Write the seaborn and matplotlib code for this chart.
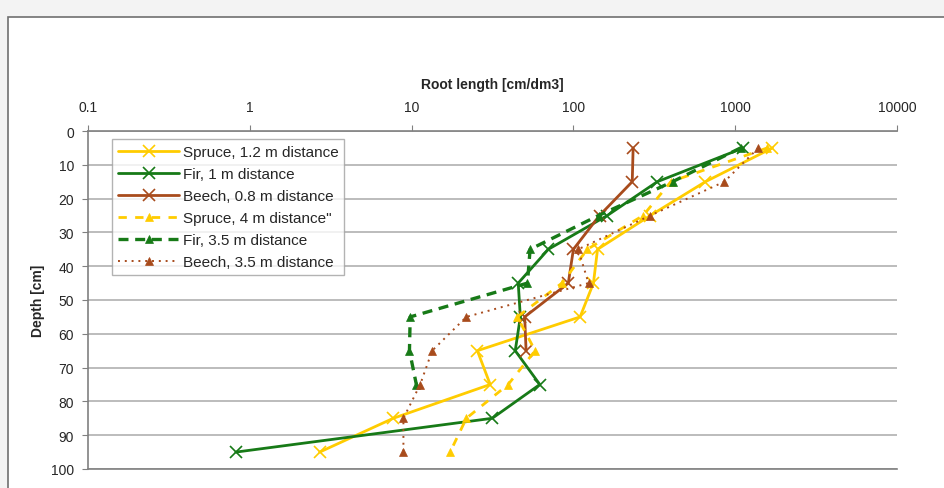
import matplotlib
matplotlib.use('Agg')
import matplotlib.pyplot as plt
import seaborn as sns
import pandas as pd
from matplotlib.patches import Rectangle

# Tiefe [cm]
depth = [5, 15, 25, 35, 45, 55, 65, 75, 85, 95]

spruce_12 = [1700, 655, 299, 141, 133, 110, 25.5, 30.6, 7.7, 2.7]
fir_1 = [1124, 330, 162, 70, 45.6, 47, 43.7, 62, 31.5, 0.82]
beech_08 = [234, 231, 145, 100, 93, 50, 51]
spruce_4 = [1580, 400, 270, 122, 85, 45, 58, 39.5, 21.8, 17.3]
fir_35 = [1080, 410, 143, 54, 52, 9.8, 9.7, 10.7]
beech_35 = [1390, 857, 299, 107, 124, 21.8, 13.4, 11.3, 8.9, 8.9]

labels = ['Spruce, 1.2 m distance', 'Fir, 1 m distance', 'Beech, 0.8 m distance',
          'Spruce, 4 m distance"', 'Fir, 3.5 m distance', 'Beech, 3.5 m distance']

yellow = '#FFCC00'
green = '#177A17'
brown = '#A84B1C'

sns.set_style('white')
plt.rcParams['font.family'] = ['Liberation Sans', 'DejaVu Sans']

fig = plt.figure(figsize=(9.45, 4.89), dpi=100)
fig.patch.set_facecolor('#f3f3f3')
fig.patches.append(Rectangle((8 / 945, -0.1), 1.0, 1 - 18 / 489 + 0.1, transform=fig.transFigure,
                             facecolor='white', edgecolor='#707070', linewidth=1.2, zorder=-5))

ax = fig.add_axes([88 / 945, 1 - 470 / 489, (897 - 88) / 945, (470 - 132) / 489])
ax.set_facecolor('white')

series = [
    (spruce_12, yellow, '-', 'x', 2.0),
    (fir_1, green, '-', 'x', 2.0),
    (beech_08, brown, '-', 'x', 2.0),
    (spruce_4, yellow, (0, (3, 3)), '^', 2.0),
    (fir_35, green, (0, (3, 2)), '^', 2.4),
    (beech_35, brown, (0, (1, 2.5)), '^', 1.4),
]

for (vals, col, ls, mk, lw), lab in zip(series, labels):
    df = pd.DataFrame({'x': vals, 'depth': depth[:len(vals)]})
    sns.lineplot(data=df, x='x', y='depth', sort=False, orient='y', ax=ax, color=col,
                 linestyle=ls, linewidth=lw, marker=mk, markersize=9 if mk == 'x' else 6,
                 markeredgewidth=1.2 if mk == 'x' else 0.5, markeredgecolor=col, label=lab)

ax.set_xscale('log')
ax.set_xlim(0.1, 10000)
ax.set_ylim(100, 0)
ax.set_yticks(range(0, 101, 10))
ax.xaxis.tick_top()
ax.xaxis.set_label_position('top')
ax.set_xticks([0.1, 1, 10, 100, 1000, 10000])
ax.set_xticklabels(['0.1', '1', '10', '100', '1000', '10000'])
ax.minorticks_off()
ax.tick_params(axis='x', which='major', direction='out', length=4, color='#808080',
               labelsize=10, pad=8, top=True, bottom=False)
ax.tick_params(axis='y', direction='out', length=4, color='#808080', labelsize=10, pad=6, left=True)
ax.set_xlabel('Root length [cm/dm3]', fontsize=10, fontweight='bold', labelpad=9)
ax.set_ylabel('Depth [cm]', fontsize=10, fontweight='bold', labelpad=4)

ax.grid(axis='y', color='#b0b0b0', linewidth=1.2)
ax.grid(axis='x', visible=False)
for s in ['top', 'left', 'bottom']:
    ax.spines[s].set_color('#808080')
    ax.spines[s].set_linewidth(1.2)
ax.spines['right'].set_visible(False)

leg = ax.legend(loc='upper left', bbox_to_anchor=(0.03, 0.976), fontsize=11, frameon=True,
                fancybox=False, edgecolor='#a0a0a0', handlelength=4.0, handletextpad=0.2,
                labelspacing=0.52, borderpad=0.4, borderaxespad=0)
leg.get_frame().set_linewidth(1.0)

fig.savefig('out.png', dpi=100, facecolor=fig.get_facecolor())
